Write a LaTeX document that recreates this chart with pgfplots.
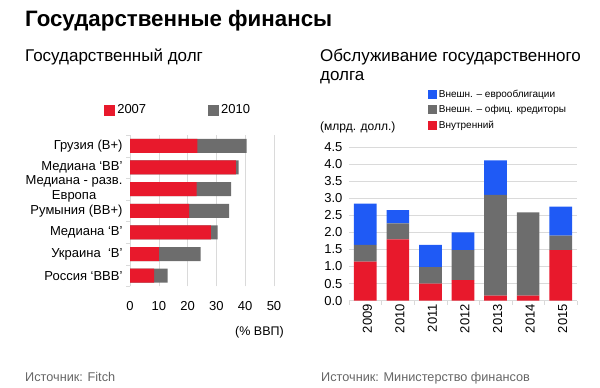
\documentclass[border=0pt]{standalone}
\usepackage{pgfplots}
\pgfplotsset{compat=1.18}
\usepackage{fontspec}
\setmainfont{Liberation Sans}
\definecolor{cred}{HTML}{E8192C}
\definecolor{cgray}{HTML}{6D6D6D}
\definecolor{cblue}{HTML}{1F5AF5}
\definecolor{cgrid}{HTML}{DADADA}

\pgfplotstableread{
y v2007 v2010
0 8.4 13.1
1 10.0 24.5
2 28.1 30.4
3 20.5 34.4
4 23.1 35.1
5 36.8 37.7
6 23.4 40.5
}\debt

\pgfplotstableread{
x dom off euro
0 1.14 0.49 1.21
1 1.79 0.47 0.39
2 0.50 0.48 0.65
3 0.60 0.88 0.52
4 0.15 2.94 1.01
5 0.15 2.43 0.00
6 1.48 0.42 0.85
}\service

\pgfplotsset{
  sqleft/.style={legend image code/.code={\fill[#1] (0pt,-5.5pt) rectangle (11pt,5.5pt);}},
  sqright/.style={legend image code/.code={\fill[#1] (0pt,-4.5pt) rectangle (9pt,4.5pt);}},
}

\begin{document}
\begin{tikzpicture}[x=1pt,y=1pt]
\useasboundingbox (0,0) rectangle (600,388);
\node[anchor=base west, inner sep=0, font=\fontsize{22.3}{22.3}\selectfont\bfseries] at (25,361) {Государственные финансы};
\node[anchor=base west, inner sep=0, font=\fontsize{17}{17}\selectfont] at (25,326) {Государственный долг};
\node[anchor=base west, inner sep=0, font=\fontsize{17}{17}\selectfont] at (320,326) {Обслуживание государственного};
\node[anchor=base west, inner sep=0, font=\fontsize{17}{17}\selectfont] at (320,307) {долга};
\node[anchor=base west, inner sep=0, font=\fontsize{12}{12}\selectfont] at (320,257) {(млрд. долл.)};
\node[anchor=base east, inner sep=0, font=\fontsize{12.5}{12.5}\selectfont] at (284,52) {(\% ВВП)};
\node[anchor=base west, inner sep=0, font=\fontsize{12.7}{12.7}\selectfont, text=black!60] at (25,6) {Источник: Fitch};
\node[anchor=base west, inner sep=0, font=\fontsize{12.7}{12.7}\selectfont, text=black!60] at (321,6) {Источник: Министерство финансов};

\begin{axis}[
  at={(130pt,101.5pt)}, anchor=south west, scale only axis,
  width=144pt, height=151.5pt,
  xbar, bar width=14pt, bar shift=0pt,
  xmin=0, xmax=50, ymin=-0.5, ymax=6.5,
  xtick={0,10,20,30,40,50}, ytick={0,1,2,3,4,5,6},
  yticklabels={Россия ‘ВВВ’, Украина \ ‘В’, Медиана ‘В’, Румыния (ВВ+), {Медиана - разв.\\Европа}, Медиана ‘ВВ’, Грузия (В+)},
  yticklabel style={align=center, font=\fontsize{13}{15}\selectfont, xshift=-4pt},
  xticklabel style={font=\fontsize{13}{13}\selectfont, yshift=-11pt},
  /pgf/number format/assume math mode=true,
  major tick length=0pt,
  extra y ticks={-0.5,0.5,1.5,2.5,3.5,4.5,5.5,6.5},
  extra y tick labels={},
  extra y tick style={major tick length=4pt, tick align=outside, tick style={cgrid}},
  axis lines*=left,
  x axis line style={draw=none},
  y axis line style={draw=cgrid},
  xmajorgrids, grid style={cgrid},
  legend columns=2,
  legend style={at={(axis description cs:-0.18,1.165)}, anchor=west, draw=none, fill=none,
    font=\fontsize{13}{13}\selectfont, inner sep=0pt,
    /tikz/every even column/.append style={column sep=60pt}},
  sqleft,
]
\addlegendimage{fill=cred, draw=none}
\addlegendentry{2007}
\addlegendimage{fill=cgray, draw=none}
\addlegendentry{2010}
\addplot[fill=cgray, draw=none, forget plot] table[x=v2010, y=y] {\debt};
\addplot[fill=cred, draw=none, forget plot] table[x=v2007, y=y] {\debt};
\end{axis}

\begin{axis}[
  at={(349pt,87.3pt)}, anchor=south west, scale only axis,
  width=228pt, height=154pt,
  ybar stacked, bar width=22.7pt,
  xmin=-0.5, xmax=6.5, ymin=0, ymax=4.5,
  xtick={0,1,2,3,4,5,6}, xticklabels={2009,2010,2011,2012,2013,2014,2015},
  xticklabel style={rotate=90, anchor=east, font=\fontsize{13}{13}\selectfont, yshift=-2pt},
  ytick={0,0.5,1,1.5,2,2.5,3,3.5,4,4.5},
  yticklabel style={font=\fontsize{13}{13}\selectfont, xshift=-3pt, /pgf/number format/.cd, fixed, fixed zerofill, precision=1},
  /pgf/number format/assume math mode=true,
  major tick length=0pt,
  extra x ticks={-0.5,0.5,1.5,2.5,3.5,4.5,5.5,6.5},
  extra x tick labels={},
  extra x tick style={major tick length=4pt, tick align=outside, tick style={cgrid}, grid=none},
  axis lines*=left,
  y axis line style={draw=none},
  x axis line style={draw=cgrid},
  ymajorgrids, grid style={cgrid},
  reverse legend,
  legend style={at={(axis description cs:0.345,1.381)}, anchor=north west, draw=none, fill=none,
    font=\fontsize{10}{10}\selectfont, inner sep=0pt, row sep=2.5pt},
  legend cell align=left,
  sqright,
]
\addplot[fill=cred, draw=none] table[x=x, y=dom] {\service};
\addlegendentry{Внутренний}
\addplot[fill=cgray, draw=none] table[x=x, y=off] {\service};
\addlegendentry{Внешн. – офиц. кредиторы}
\addplot[fill=cblue, draw=none] table[x=x, y=euro] {\service};
\addlegendentry{Внешн. – еврооблигации}
\end{axis}
\end{tikzpicture}
\end{document}
